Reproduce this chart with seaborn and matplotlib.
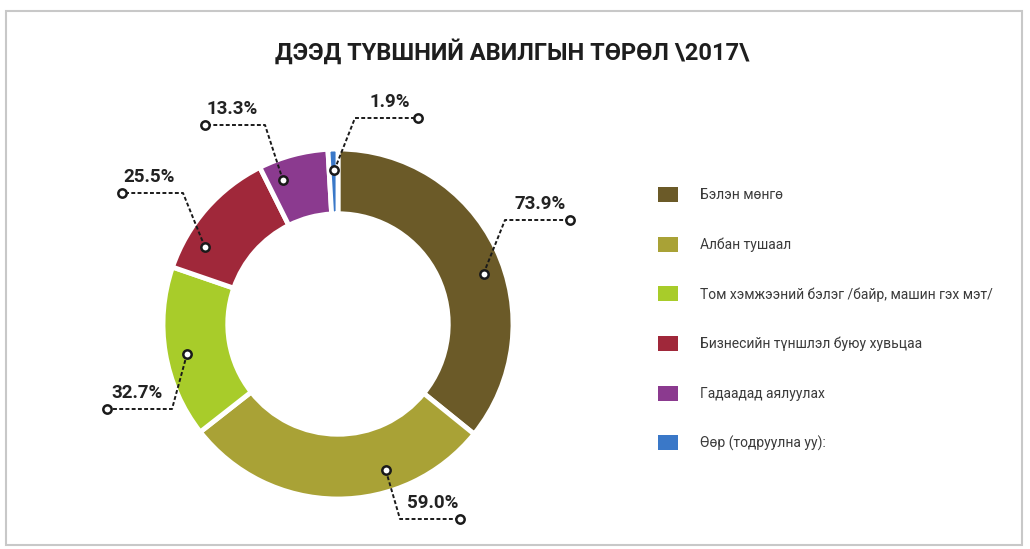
import matplotlib.pyplot as plt
import seaborn as sns
import numpy as np
from matplotlib.patches import Patch, Rectangle

# Data
categories = ['Бэлэн мөнгө', 'Албан тушаал',
              'Том хэмжээний бэлэг /байр, машин гэх мэт/',
              'Бизнесийн түншлэл буюу хувьцаа', 'Гадаадад аялуулах',
              'Өөр (тодруулна уу):']
values = [73.9, 59.0, 32.7, 25.5, 13.3, 1.9]
colors = ['#6b5a28', '#a9a236', '#a8cc2a', '#a0283a', '#8b3a8f', '#3a78c8']
title = 'ДЭЭД ТҮВШНИЙ АВИЛГЫН ТӨРӨЛ \\2017\\'

# Label callout layout (pixels, relative to donut centre; y up)
marker_frac = [0.55, 0.32, 0.47, 0.25, 0.24, 0.6]
elbows = [(167, 104), (62, -195), (-166, -85), (-155, 131), (-73, 199), (17, 206)]
seg_len = [65, 60, -65, -61, -60, 63]

sns.set_theme(style='white')
plt.rcParams['font.family'] = ['Roboto', 'DejaVu Sans']

W, H = 1030, 549
fig = plt.figure(figsize=(W / 100, H / 100), dpi=100)
fig.patch.set_facecolor('white')
ax = fig.add_axes([0, 0, 1, 1])

cx, cy, R = 338, H - 324, 175
wedges, _ = ax.pie(values, colors=colors, startangle=90, counterclock=False,
                   center=(cx, cy), radius=R,
                   wedgeprops=dict(width=R * 0.37, edgecolor='white', linewidth=3.5))
ax.set_xlim(0, W)
ax.set_ylim(0, H)
ax.set_aspect('auto')
ax.axis('off')

# Callouts
for w, v, f, (ex, ey), L in zip(wedges, values, marker_frac, elbows, seg_len):
    ang = np.deg2rad(w.theta2 - f * (w.theta2 - w.theta1))
    r = R * 0.88
    mx, my = cx + r * np.cos(ang), cy + r * np.sin(ang)
    x1, y1 = cx + ex, cy + ey
    x2 = x1 + L
    ax.plot([mx, x1, x2], [my, y1, y1], color='#1a1a1a', lw=1.4,
            ls=(0, (2, 1.2)), zorder=5)
    for px, py in [(mx, my), (x2, y1)]:
        ax.plot(px, py, 'o', ms=6, mfc='white', mec='#1a1a1a', mew=1.8, zorder=6)
    ax.text((x1 + x2) / 2 + (3 if L > 0 else -3), y1 + 7, f'{v:.1f}%',
            ha='center', va='bottom', fontsize=13.5, fontweight='bold',
            color='#222222')

# Title
ax.text(512, H - 52, title, ha='center', va='center',
        fontsize=17, fontweight='bold', color='#1e1e1e')

# Legend
handles = [Patch(facecolor=c, edgecolor='none') for c in colors]
leg = ax.legend(handles, categories, loc='upper left',
                bbox_to_anchor=(658, H - 187), bbox_transform=ax.transData,
                frameon=False, fontsize=10, handlelength=1.45, handleheight=1.3,
                handletextpad=1.55, labelspacing=2.48, borderpad=0, borderaxespad=0)
for t in leg.get_texts():
    t.set_color('#3a3a3a')

# Thin page border
ax.add_patch(Rectangle((6, 4), W - 14, H - 15, fill=False, edgecolor='#c8c8c8',
                       lw=1.5, zorder=0))

fig.savefig('out.png', dpi=100, facecolor='white')
